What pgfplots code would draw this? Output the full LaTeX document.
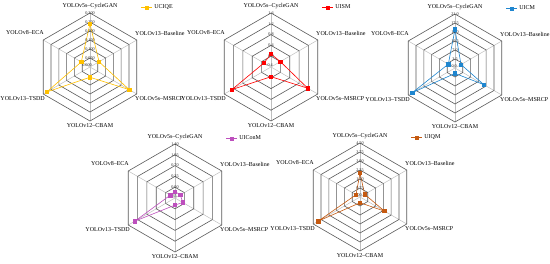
\documentclass[border=0pt]{standalone}
\usepackage{pgfplots}
\pgfplotsset{compat=1.18}
\usepackage{pgfplotstable}
\usepackage{fontspec}
\setmainfont{Liberation Serif}

\definecolor{cA}{HTML}{FFC000}
\definecolor{cB}{HTML}{FF0000}
\definecolor{cC}{HTML}{1F86CF}
\definecolor{cD}{HTML}{BD4FBD}
\definecolor{cE}{HTML}{C55A11}
\definecolor{ringc}{HTML}{595959}
\definecolor{spokec}{HTML}{BFBFBF}

% angle: CycleGAN 90, Baseline 30, MSRCP -30, CBAM -90, TSDD 210, ECA 150
\pgfplotstableread{
ang v
90 0.240
30 0.058
-30 0.252
-90 0.057
210 0.278
150 0.056
90 0.240
}\tUCIQE
\pgfplotstableread{
ang v
90 0.08
30 0.00
-30 1.17
-90 -0.04
210 1.27
150 -0.10
90 0.08
}\tUISM
\pgfplotstableread{
ang v
90 15.0
30 2.7
-30 13.0
-90 2.1
210 19.2
150 3.0
90 15.0
}\tUICM
\pgfplotstableread{
ang v
90 -0.14
30 -0.15
-30 -0.06
-90 -0.12
210 1.15
150 -0.17
90 -0.14
}\tUIConM
\pgfplotstableread{
ang v
90 2.00
30 0.45
-30 2.35
-90 0.48
210 4.02
150 0.38
90 2.00
}\tUIQM

\newcommand{\radargrid}[1]{%
  \pgfplotsinvokeforeach{90,30,-30,-90,210,150}{%
    \addplot[forget plot, spokec, line width=0.5pt, data cs=polar] coordinates {(##1,0) (##1,#1)};}
  \pgfplotsinvokeforeach{1,...,#1}{%
    \addplot[forget plot, ringc, line width=0.6pt, data cs=polar] coordinates {(90,##1) (30,##1) (-30,##1) (-90,##1) (210,##1) (150,##1) (90,##1)};}
}
\newcommand{\tl}[2]{\node[ticklab] at (axis cs:0,#1) {#2};}
\newcommand{\tlc}[1]{\node[ticklab, anchor=east] at (axis cs:0,0) [xshift=2pt, yshift=1.5pt] {#1};}

\newcommand{\cats}[2]{%
  \node[cat, anchor=center] at (#1pt,#2pt+61pt) {YOLOv5s–CycleGAN};
  \node[cat, anchor=west] at (#1pt+45pt,#2pt+34pt) {YOLOv13–Baseline};
  \node[cat, anchor=west] at (#1pt+45pt,#2pt-32pt) {YOLOv5s–MSRCP};
  \node[cat, anchor=center] at (#1pt,#2pt-59pt) {YOLOv12–CBAM};
  \node[cat, anchor=east] at (#1pt-45pt,#2pt-32pt) {YOLOv13–TSDD};
  \node[cat, anchor=east] at (#1pt-46pt,#2pt+34pt) {YOLOv8–ECA};
}

\pgfplotsset{
  radar/.style={hide axis, clip=false, scale only axis, anchor=center,
    xmin=-#1, xmax=#1, ymin=-#1, ymax=#1,
    legend style={draw=none, fill=none, at={(0.97,1.05)}, anchor=west,
      font=\fontsize{6}{7}\selectfont, inner sep=0pt, outer sep=0pt},
    legend image code/.code={%
      \draw[mark repeat=2, mark phase=2, ##1] plot coordinates {(0pt,0pt) (5.5pt,0pt) (11pt,0pt)};},
  },
  dat/.style={color=#1, mark=square*, mark size=1.7pt, line width=0.6pt, data cs=polar, mark options={solid, fill=#1}},
}
\tikzset{
  cat/.style={font=\fontsize{6}{7}\selectfont, inner sep=0pt},
  ticklab/.style={font=\fontsize{4.2}{5}\selectfont, inner sep=0pt, text=black!85},
}

\begin{document}
\begin{tikzpicture}
\path[use as bounding box] (0pt,0pt) rectangle (550pt,263pt);

% UCIQE
\begin{axis}[radar=6, at={(90pt,196pt)}, x=9pt, y=9pt]
\radargrid{6}
\addplot[dat=cA] table[x=ang, y expr=\thisrow{v}/0.05] {\tUCIQE};
\addlegendentry{UCIQE}
\tlc{0.000}\tl{1}{0.050}\tl{2}{0.100}\tl{3}{0.150}\tl{4}{0.200}\tl{5}{0.250}\tl{6}{0.300}
\end{axis}
\cats{90}{196}

% UISM
\begin{axis}[radar=5, at={(271pt,196pt)}, x=10.8pt, y=10.8pt]
\radargrid{5}
\addplot[dat=cB] table[x=ang, y expr=(\thisrow{v}+0.4)/0.4] {\tUISM};
\addlegendentry{UISM}
\tlc{-0.4}\tl{1}{0.0}\tl{2}{0.4}\tl{3}{0.8}\tl{4}{1.2}\tl{5}{1.6}
\end{axis}
\cats{271}{196}

% UICM
\begin{axis}[radar=6, at={(455pt,195pt)}, x=9pt, y=9pt]
\radargrid{6}
\addplot[dat=cC] table[x=ang, y expr=\thisrow{v}/3.5] {\tUICM};
\addlegendentry{UICM}
\tlc{0.0}\tl{1}{3.5}\tl{2}{7.0}\tl{3}{10.5}\tl{4}{14.0}\tl{5}{17.5}\tl{6}{21.0}
\end{axis}
\cats{455}{195}

% UIConM
\begin{axis}[radar=5, at={(175pt,65pt)}, x=10.8pt, y=10.8pt]
\radargrid{5}
\addplot[dat=cD] table[x=ang, y expr=(\thisrow{v}+0.35)/0.35] {\tUIConM};
\addlegendentry{UIConM}
\tlc{-0.35}\tl{1}{0.00}\tl{2}{0.35}\tl{3}{0.70}\tl{4}{1.05}\tl{5}{1.40}
\end{axis}
\cats{175}{65}

% UIQM
\begin{axis}[radar=6, at={(360pt,66pt)}, x=9pt, y=9pt]
\radargrid{6}
\addplot[dat=cE] table[x=ang, y expr=\thisrow{v}/0.75] {\tUIQM};
\addlegendentry{UIQM}
\tlc{0.00}\tl{1}{0.75}\tl{2}{1.50}\tl{3}{2.25}\tl{4}{3.00}\tl{5}{3.75}\tl{6}{4.50}
\end{axis}
\cats{360}{66}

\end{tikzpicture}
\end{document}
